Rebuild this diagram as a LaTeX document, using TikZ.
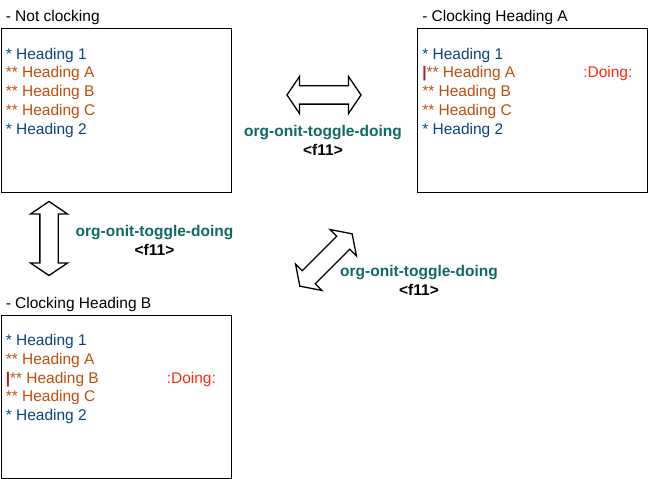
\documentclass[tikz,border=0pt]{standalone}
\usepackage{fontspec}
\setmainfont{Liberation Sans}
\usetikzlibrary{positioning,shapes.arrows}
\definecolor{headone}{HTML}{0B4285}
\definecolor{headtwo}{HTML}{BF4E0E}
\definecolor{doingred}{HTML}{FF2A0D}
\definecolor{cursorred}{HTML}{B01F28}
\definecolor{cmdteal}{HTML}{0E6967}
\newcommand{\cursorbar}{{\color{cursorred}\bfseries|}}
\begin{document}
\begin{tikzpicture}[x=1pt,y=1pt,
    every node/.style={font=\fontsize{15.5}{19}\selectfont, inner sep=0pt},
    orgbox/.style={draw, line width=0.9pt, minimum width=230pt, minimum height=164pt},
    lvlone/.style={text=headone, anchor=base west},
    lvltwo/.style={text=headtwo, anchor=base west},
    doingtag/.style={text=doingred, anchor=base west},
    caption/.style={anchor=base west},
    flip/.style={double arrow, draw, line width=1.3pt, minimum height=74pt, minimum width=0pt,
      inner xsep=0pt, inner ysep=8.5pt, double arrow head extend=9.5pt, double arrow tip angle=112},
    cmdlabel/.style={align=center, font=\fontsize{15.5}{19}\selectfont\bfseries}
  ]
  \useasboundingbox (0,0) rectangle (648,479);
  % the three states
  \node[orgbox] (boxNot) at (116,369) {};
  \node[orgbox] (boxA) at (532.5,369) {};
  \node[orgbox, minimum height=163pt] (boxB) at (116,82) {};
  \node[caption] (capNot) at ([shift={(5,6.5)}]boxNot.north west) {- Not clocking};
  \node[caption] (capA) at ([shift={(5,6.5)}]boxA.north west) {- Clocking Heading A};
  \node[caption] (capB) at ([shift={(5,6.5)}]boxB.north west) {- Clocking Heading B};
  \foreach \txt/\sty [count=\i] in {{* Heading 1}/lvlone, {** Heading A}/lvltwo,
      {** Heading B}/lvltwo, {** Heading C}/lvltwo, {* Heading 2}/lvlone}
    \node[\sty] (not\i) at ([shift={(5,{-31.5-18.8*(\i-1)})}]boxNot.north west) {\txt};
  \foreach \txt/\sty [count=\i] in {{* Heading 1}/lvlone, {\cursorbar** Heading A}/lvltwo,
      {** Heading B}/lvltwo, {** Heading C}/lvltwo, {* Heading 2}/lvlone}
    \node[\sty] (clkA\i) at ([shift={(5,{-31.5-18.8*(\i-1)})}]boxA.north west) {\txt};
  \foreach \txt/\sty [count=\i] in {{* Heading 1}/lvlone, {** Heading A}/lvltwo,
      {\cursorbar** Heading B}/lvltwo, {** Heading C}/lvltwo, {* Heading 2}/lvlone}
    \node[\sty] (clkB\i) at ([shift={(5,{-30.5-18.8*(\i-1)})}]boxB.north west) {\txt};
  \node[doingtag] (tagA) at ([shift={(166,-50.3)}]boxA.north west) {:Doing:};
  \node[doingtag] (tagB) at ([shift={(166,-68.1)}]boxB.north west) {:Doing:};
  % toggles
  \node[flip] (flipNA) at (324,384) {};
  \node[flip, rotate=90] (flipNB) at (49,240.5) {};
  \node[flip, rotate=45] (flipAB) at (326,219) {};
  \node[cmdlabel] (cmdNA) at (323,339) {\textcolor{cmdteal}{org-onit-toggle-doing}\\<f11>};
  \node[cmdlabel] (cmdNB) at (154.5,239) {\textcolor{cmdteal}{org-onit-toggle-doing}\\<f11>};
  \node[cmdlabel] (cmdAB) at (419,198.5) {\textcolor{cmdteal}{org-onit-toggle-doing}\\<f11>};
\end{tikzpicture}
\end{document}
